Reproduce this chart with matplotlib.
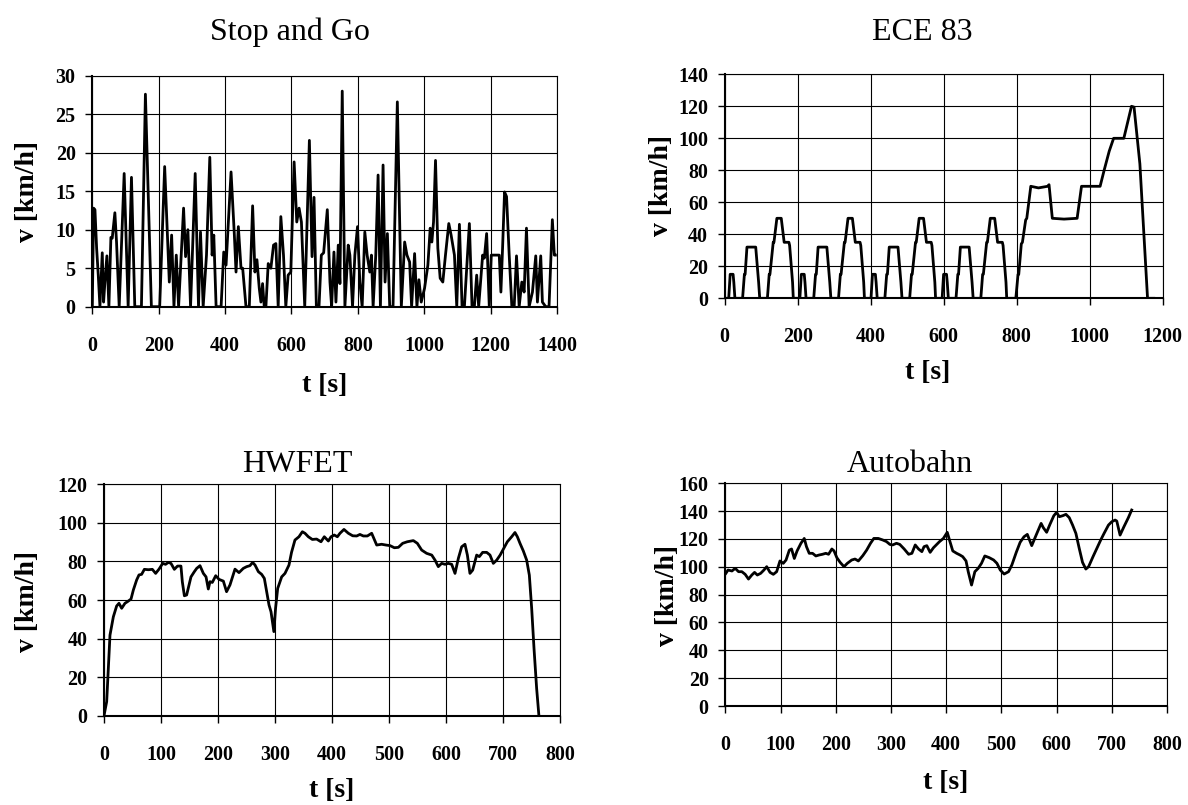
import matplotlib
matplotlib.use("Agg")
import matplotlib.pyplot as plt

plt.rcParams['font.family'] = ['Liberation Serif', 'DejaVu Serif']
plt.rcParams['font.weight'] = 'bold'

# Stop and Go
sg_t = [0, 4, 8, 13, 18, 23, 30, 34, 38, 44, 50, 56, 60, 68, 73, 81, 96, 108, 118, 128, 148, 160, 178, 203,
        218, 232, 239, 246, 253, 260, 275, 281, 288, 296, 310, 320, 326, 334, 344, 354, 361, 366, 373, 388,
        396, 403, 418, 428, 433, 440, 448, 453, 463, 473, 483, 490, 496, 503, 508, 513, 518, 523, 530, 538,
        546, 553, 560, 568, 576, 583, 590, 598, 608, 616, 623, 630, 640, 654, 662, 668, 675, 683, 690, 697,
        708, 716, 721, 728, 734, 741, 746, 753, 761, 771, 776, 784, 791, 799, 806, 813, 821, 828, 836, 841,
        846, 854, 861, 868, 876, 882, 889, 896, 906, 919, 931, 941, 948, 956, 962, 971, 978, 984, 991, 1001,
        1011, 1018, 1023, 1028, 1034, 1041, 1048, 1056, 1064, 1074, 1081, 1091, 1098, 1106, 1114, 1121, 1136,
        1144, 1151, 1158, 1164, 1176, 1181, 1188, 1196, 1202, 1211, 1226, 1231, 1236, 1242, 1248, 1256, 1264,
        1271, 1278, 1286, 1294, 1301, 1308, 1316, 1326, 1336, 1341, 1351, 1356, 1366, 1376, 1386, 1392, 1395]
sg_v = [0, 12.8, 12.6, 7.6, 4.1, 0, 7, 0.6, 3.2, 6.6, 0, 9, 8.9, 12.2, 8.4, 0, 17.3, 0, 16.8, 0, 0, 27.6, 0, 0,
        18.2, 3.2, 9.3, 0, 6.7, 0, 12.8, 6.5, 10, 0, 17.3, 0, 9.7, 0, 6.7, 19.4, 6.7, 9.3, 0, 0,
        7.1, 5.4, 17.5, 9.3, 4.5, 10.4, 5, 5, 0, 0, 13.1, 4.5, 6.1, 2.4, 0.6, 3, 0, 0, 5.6, 5,
        8, 8.2, 0, 11.7, 6.7, 0, 4.1, 4.5, 18.8, 11, 12.8, 11, 0, 21.6, 6.5, 14.2, 0, 0, 6.7, 7,
        12.6, 3.2, 0, 7.1, 0.6, 8, 3, 28, 0, 8, 6.7, 0, 6.7, 10.4, 3.2, 0, 9.7, 6.7, 4.5, 6.7,
        0, 6.7, 17.1, 0, 18.4, 3.2, 9.5, 0, 0, 26.6, 0, 8.4, 6.7, 5.8, 0, 6.9, 0, 3.5, 0.6, 2.4,
        5.4, 10.2, 8.4, 11, 19, 7.6, 3.7, 3.2, 6.7, 10.8, 9.3, 6.7, 0, 10.7, 0, 0, 10.8,
        0, 0, 4.1, 0, 6.7, 6.3, 9.5, 0, 6.7, 6.7, 6.7, 1.9, 7.6, 14.9, 14.3, 6.7, 0,
        0, 6.6, 0, 3.2, 1.9, 10.2, 0, 1.9, 6.6, 0.6, 6.6, 0.6, 0, 0, 11.3, 6.7, 6.7]

# ECE 83 (4 urban parts + extra urban part)
ece_t = [0, 11, 15, 23, 25, 28, 49, 54, 56, 61, 85, 93, 96, 117, 122, 124, 133, 135, 143, 155, 163, 176, 178, 186, 188,
         195, 206, 210, 218, 220, 223, 244, 249, 251, 256, 280, 288, 291, 312, 317, 319, 328, 330, 338, 350, 358, 371, 373, 381, 383,
         390, 401, 405, 413, 415, 418, 439, 444, 446, 451, 475, 483, 486, 507, 512, 514, 523, 525, 533, 545, 553, 566, 568, 576, 578,
         585, 596, 600, 608, 610, 613, 634, 639, 641, 646, 670, 678, 681, 702, 707, 709, 718, 720, 728, 740, 748, 761, 763, 771, 773,
         780, 798, 804, 806, 813, 816, 825, 828, 839, 860, 885, 889, 898, 930, 966, 978, 1029, 1040, 1054, 1066, 1094,
         1115, 1122, 1138, 1159, 1176]
ece_v = [0, 0, 15, 15, 10, 0, 0, 15, 15, 32, 32, 10, 0, 0, 15, 15, 35, 35, 50, 50, 35, 35, 33, 10, 0,
         0, 0, 15, 15, 10, 0, 0, 15, 15, 32, 32, 10, 0, 0, 15, 15, 35, 35, 50, 50, 35, 35, 33, 10, 0,
         0, 0, 15, 15, 10, 0, 0, 15, 15, 32, 32, 10, 0, 0, 15, 15, 35, 35, 50, 50, 35, 35, 33, 10, 0,
         0, 0, 15, 15, 10, 0, 0, 15, 15, 32, 32, 10, 0, 0, 15, 15, 35, 35, 50, 50, 35, 35, 33, 10, 0,
         0, 0, 15, 15, 34, 35, 49, 50, 70, 69, 70, 71, 50, 49.5, 50, 70, 70, 80, 92, 100, 100,
         120, 119.5, 84, 0, 0]

# HWFET
hw_t = [0, 4.7, 10.5, 16.4, 22.2, 26.3, 31, 36.8, 41, 47.4, 51.5, 57.3, 61.4, 66, 70.8, 77.8, 84.8, 90.6, 96.5,
        103, 108, 113, 117.5, 123.4, 129, 135, 137.4, 141, 145, 152.6, 158.5, 162.6, 168.4, 174.3, 179, 183,
        186, 190, 196, 201.8, 209.4, 215, 221, 229.8, 236.8, 244.4, 250.3, 256, 260.8, 265, 270.8, 276.6,
        281.3, 285.4, 289.5, 293, 298, 301, 304.7, 311.7, 317.5, 324.5, 329, 335, 342, 348, 352.6, 358.5,
        365.5, 373, 380.7, 386.5, 393.6, 398.3, 404, 409.4, 414, 421, 428.7, 436.3, 443.3, 449, 455, 462,
        469.6, 478.4, 487, 494.7, 501.8, 509.4, 516.4, 524, 532, 542.7, 549.7, 557.3, 566, 575, 580.7,
        586.5, 592.4, 598.3, 604, 610, 615.8, 621.7, 627.5, 633.3, 637.5, 642, 646.8, 653.8, 658.5, 664.3,
        671.4, 677.2, 683, 689, 695, 700.6, 707.6, 715.2, 721, 725.2, 729.8, 735.7, 741.5, 746.2, 750.3,
        754.4, 759, 763]
hw_v = [0, 7.3, 41.8, 51.3, 56.9, 58.3, 55.7, 58.3, 59.1, 60.5, 65.2, 70.4, 73, 73.3, 75.9, 75.7, 75.9, 73.8, 76,
        79, 78.5, 79.5, 79, 75.9, 77.6, 77.6, 69.5, 62.2, 62.6, 72, 74.7, 76.4, 77.8, 73.8, 72, 65.7,
        69.5, 69.1, 72.6, 70.7, 69.8, 64.3, 67.8, 76, 74.2, 76.4, 77.3, 77.8, 79.5, 78.1, 74.7, 73.3,
        71.2, 64.3, 57.4, 53.9, 43.6, 55.7, 66, 72, 73.8, 78.1, 84.7, 91.1, 92.8, 95.4, 94.6, 92.8,
        91.4, 91.6, 90.2, 92.8, 90.6, 92.8, 93.7, 92.8, 94.6, 96.6, 94.6, 93.3, 93.2, 94, 93.2, 93.2,
        94.6, 88.5, 88.9, 88.5, 88.2, 87.1, 87.3, 89.4, 90.2, 90.8, 89.4, 85.9, 84.2, 83.3, 80.7,
        77.3, 79, 78.5, 79, 78.5, 73.8, 81.6, 87.6, 88.9, 83.3, 73.8, 75.5, 83.3, 82.5, 84.7,
        84.7, 83.3, 79, 80.7, 83.3, 86.4, 90.2, 92.8, 95, 92.8, 89.4, 85.4, 80.7, 72.9, 55.7,
        34.9, 14.2, 0]

# Autobahn
ab_t = [1, 5, 12, 18, 24, 30, 36, 42, 48, 53, 58, 64, 70, 75, 81, 87, 93, 99, 105, 110, 116, 120, 125, 130,
        137, 143, 147, 152, 158, 164, 170, 176, 182, 187, 193, 197, 202, 208, 215, 221, 229, 235, 241, 249,
        256, 263, 269, 277, 285, 292, 298, 303, 310, 316, 324, 332, 338, 344, 350, 356, 360, 365, 371, 377,
        383, 388, 395, 402, 406, 412, 419, 425, 430, 436, 440, 446, 452, 458, 464, 470, 478, 486, 492, 498,
        505, 513, 519, 527, 534, 541, 547, 555, 563, 572, 576, 582, 588, 595, 600, 605, 611, 617, 623, 629,
        635, 641, 647, 653, 658, 666, 673, 680, 686, 694, 700, 706, 709, 715, 722, 730, 736]
ab_v = [95.3, 97.7, 97, 98.9, 96.5, 96.5, 94.6, 91.2, 94.1, 96, 94.1, 95.3, 97.7, 100.1, 96, 94.6, 96.5, 104.2,
        102.5, 104.9, 112, 112.8, 106, 111.4, 116.9, 120.4, 114.5, 109.7, 109.7, 107.8, 108.5, 109, 109.7,
        109, 112.8, 111.4, 106.6, 103.2, 100.1, 102.5, 104.9, 105.6, 104.2, 108, 112, 116.9, 120.4, 120.4,
        119.3, 118.1, 116.1, 115.7, 116.9, 116.1, 112.8, 109, 109.7, 115.7, 112.8, 110.9, 114.5, 115.2,
        110.4, 113.7, 116.1, 118.1, 120.4, 124.8, 119.3, 111.4, 109.7, 108.5, 107.3, 104.2, 96.5, 86.9,
        96.5, 98.9, 102.5, 107.8, 106.6, 104.9, 102.5, 97.7, 94.8, 96.5, 101.3, 110.4, 117.6, 121.6, 123.3,
        115.2, 122.8, 131.2, 128.1, 124.8, 130.5, 136.7, 139.1, 136, 136.7, 137.7, 135.3, 130, 124, 113.3,
        103.2, 98.4, 100.1, 107.3, 113.3, 119.3, 124, 130, 132.4, 133.6, 132.9, 122.8, 128.8, 135.3, 140.8]

W, H = 1188, 805

fig = plt.figure(figsize=(W / 100, H / 100), dpi=100)


# axes rectangle from pixel edges
def box(left, top, right, bottom):
    return [left / W, 1 - bottom / H, (right - left) / W, (bottom - top) / H]


def ftext(x, y, s, **kw):
    fig.text(x / W, 1 - y / H, s, **kw)


panels = [
    # data, rect, xlim, xstep, ylim, ystep
    (sg_t, sg_v, box(92.3, 75.7, 557, 306.7), 1400, 200, 30, 5),
    (ece_t, ece_v, box(724.7, 74.3, 1162.5, 298.3), 1200, 200, 140, 20),
    (hw_t, hw_v, box(104, 484.3, 560, 715.7), 800, 100, 120, 20),
    (ab_t, ab_v, box(725.3, 483.3, 1167, 706), 800, 100, 160, 20),
]

for t, v, rect, xmax, xstep, ymax, ystep in panels:
    ax = fig.add_axes(rect)
    ax.plot(t, v, color='black', lw=2.0, solid_joinstyle='round')
    ax.set_xlim(0, xmax)
    ax.set_ylim(0, ymax)
    ax.set_xticks(range(0, xmax + 1, xstep))
    ax.set_yticks(range(0, ymax + 1, ystep))
    ax.grid(True, color='black', lw=0.8)
    ax.set_axisbelow(True)
    ax.tick_params(direction='out', length=5, width=1, labelsize=14.4)
    ax.tick_params(axis='x', pad=16)
    ax.tick_params(axis='y', pad=7)
    for side in ['left', 'bottom']:
        ax.spines[side].set_linewidth(1.5)
    for side in ['top', 'right']:
        ax.spines[side].set_linewidth(0.8)

# titles
ftext(290, 40, 'Stop and Go', fontsize=23, fontweight='normal', ha='center', va='baseline')
ftext(922, 40, 'ECE 83', fontsize=23, fontweight='normal', ha='center', va='baseline')
ftext(297, 472, 'HWFET', fontsize=23, fontweight='normal', ha='center', va='baseline')
ftext(910, 472, 'Autobahn', fontsize=23, fontweight='normal', ha='center', va='baseline')

# axis labels
ftext(27, 191, 'v [km/h]', fontsize=20, rotation=90, ha='center', va='center')
ftext(661, 186, 'v [km/h]', fontsize=20, rotation=90, ha='center', va='center')
ftext(27, 601, 'v [km/h]', fontsize=20, rotation=90, ha='center', va='center')
ftext(667, 596, 'v [km/h]', fontsize=20, rotation=90, ha='center', va='center')

ftext(325, 386, 't [s]', fontsize=20, ha='center', va='center')
ftext(928, 372, 't [s]', fontsize=20, ha='center', va='center')
ftext(332, 790, 't [s]', fontsize=20, ha='center', va='center')
ftext(946, 782, 't [s]', fontsize=20, ha='center', va='center')

fig.savefig('out.png', dpi=100)
